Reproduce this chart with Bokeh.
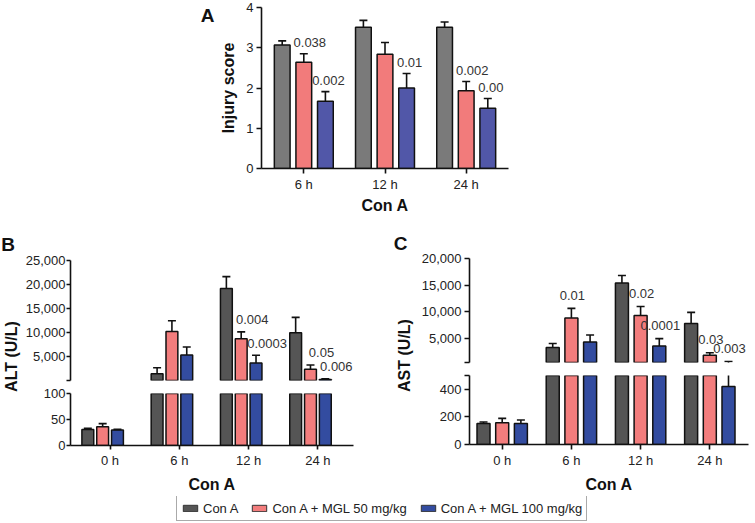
import math
import numpy as np
from bokeh.plotting import figure
from bokeh.layouts import column, row
from bokeh.models import (Range1d, FixedTicker, Legend, LegendItem,
                          NumeralTickFormatter)
from bokeh.embed import file_html
from bokeh.resources import INLINE
from bokeh.core.properties import value

FONT = "Liberation Sans"
INK = "#111111"

series = ["Con A", "Con A + MGL 50 mg/kg", "Con A + MGL 100 mg/kg"]

# ---------------- Panel A: injury score ----------------
a_times = ["6 h", "12 h", "24 h"]
a_cona = [3.07, 3.51, 3.51]
a_cona_err = [0.10, 0.17, 0.13]
a_mgl50 = [2.64, 2.84, 1.93]
a_mgl50_err = [0.21, 0.29, 0.23]
a_mgl100 = [1.67, 2.00, 1.50]
a_mgl100_err = [0.24, 0.36, 0.24]
a_p50 = ["0.038", "", "0.002"]
a_p100 = ["0.002", "0.01", "0.00"]
a_yticks = [0, 1, 2, 3, 4]

# ---------------- Panel B: ALT (U/L) ----------------
bc_times = ["0 h", "6 h", "12 h", "24 h"]
alt_cona = [31, 1500, 19200, 10000]
alt_cona_err = [2, 1250, 2450, 3200]
alt_mgl50 = [36, 10250, 8750, 2430]
alt_mgl50_err = [6, 2250, 1450, 900]
alt_mgl100 = [30, 5400, 3750, 300]
alt_mgl100_err = [1, 1650, 1600, 150]
alt_p50 = ["", "", "0.004", "0.05"]
alt_p100 = ["", "", "0.0003", "0.006"]
alt_break = 100
alt_top = 25000
alt_top_ticks = [5000, 10000, 15000, 20000, 25000]
alt_low_ticks = [0, 50, 100]

# ---------------- Panel C: AST (U/L) ----------------
ast_cona = [153, 3300, 15400, 7800]
ast_cona_err = [10, 750, 1400, 2100]
ast_mgl50 = [157, 8850, 9300, 1850]
ast_mgl50_err = [32, 1800, 1700, 490]
ast_mgl100 = [153, 4350, 3600, 420]
ast_mgl100_err = [24, 1320, 1380, 280]
ast_p50 = ["", "0.01", "0.02", "0.03"]
ast_p100 = ["", "", "0.0001", "0.003"]
ast_break = 500
ast_top = 20000
ast_top_ticks = [5000, 10000, 15000, 20000]
ast_low_ticks = [0, 200, 400]

COL_A = ["#7a7a7a", "#f27b7b", "#5157a8"]
COL_BC = ["#555555", "#f37d7d", "#334ca0"]


def base_fig(width, height, xr, yr, borders, x_axis=True, y_axis=True):
    p = figure(width=width, height=height,
               x_range=Range1d(*xr), y_range=Range1d(*yr),
               toolbar_location=None, output_backend="svg",
               x_axis_location="below" if x_axis else None,
               y_axis_location="left" if y_axis else None,
               min_border_left=borders[0], min_border_right=borders[1],
               min_border_top=borders[2], min_border_bottom=borders[3])
    p.outline_line_color = None
    p.grid.visible = False
    p.background_fill_color = "white"
    p.border_fill_color = "white"
    return p


def text_fig(width, height, xs, ys, texts, sizes, angles):
    """A blank figure whose data units equal its pixels, holding free texts."""
    p = base_fig(width, height, (0, width), (0, height), (0, 0, 0, 0),
                 x_axis=False, y_axis=False)
    p.text(x=xs, y=ys, text=texts, angle=angles, text_font_size=sizes,
           text_font=value(FONT), text_font_style="bold", text_color=INK,
           text_align="center", text_baseline="middle")
    return p


def style_axes(p, tick_out, standoff):
    for ax in p.axis:
        ax.axis_line_width = 1.6
        ax.axis_line_color = INK
        ax.major_tick_line_width = 1.6
        ax.major_tick_line_color = INK
        ax.major_tick_in = 0
        ax.major_tick_out = tick_out
        ax.minor_tick_line_color = None
        ax.major_label_text_font = FONT
        ax.major_label_text_font_size = "13px"
        ax.major_label_text_color = "#222222"
        ax.major_label_standoff = standoff
        ax.axis_label_text_font = FONT
        ax.axis_label_text_font_size = "16px"
        ax.axis_label_text_font_style = "bold"
        ax.axis_label_text_color = INK


def set_xcats(p, cats):
    p.xaxis.ticker = FixedTicker(ticks=list(range(len(cats))))
    p.xaxis.major_label_overrides = {i: c for i, c in enumerate(cats)}


def set_yticks(p, ticks, blank=None, comma=False):
    allt = list(ticks) + ([blank] if blank is not None else [])
    p.yaxis.ticker = FixedTicker(ticks=sorted(allt))
    if comma:
        p.yaxis.formatter = NumeralTickFormatter(format="0,0")
    if blank is not None:
        p.yaxis.major_label_overrides = {blank: ""}


def draw_bars(p, means, errs, offsets, width, colors, floor=None):
    """Bars with upper error bars; with `floor`, only marks reaching above it."""
    for m, e, off, c in zip(means, errs, offsets, colors):
        x = np.arange(len(m)) + off
        top = np.array(m, dtype=float)
        hi = top + np.array(e, dtype=float)
        kb = np.ones(len(m), bool) if floor is None else top > floor
        ke = np.ones(len(m), bool) if floor is None else hi > floor
        if kb.any():
            p.vbar(x=x[kb], bottom=0, top=top[kb], width=width, fill_color=c,
                   line_color=INK, line_width=1.5)
        if ke.any():
            p.segment(x0=x[ke], y0=top[ke], x1=x[ke], y1=hi[ke],
                      line_color=INK, line_width=1.6)
            p.scatter(x=x[ke], y=hi[ke], marker="dash", size=8,
                      line_color=INK, line_width=1.6)


def draw_p(p, means, errs, labels, off, dx, dy):
    xs, ys, ts = [], [], []
    for i, t in enumerate(labels):
        if t:
            xs.append(i + off)
            ys.append(means[i] + errs[i])
            ts.append(t)
    p.text(x=xs, y=ys, text=ts, x_offset=dx, y_offset=dy,
           text_align="center", text_baseline="middle",
           text_font=value(FONT), text_font_size="13px", text_color="#333333")


# ================= Panel A =================
A_OFF = [-0.266, 0.0, 0.266]
pa = base_fig(536, 222, (-0.521, 2.521), (0, 4), (40, 245, 7, 54))
draw_bars(pa, [a_cona, a_mgl50, a_mgl100], [a_cona_err, a_mgl50_err, a_mgl100_err],
          A_OFF, 0.194, COL_A)
draw_p(pa, a_mgl50, a_mgl50_err, a_p50, A_OFF[1], 6, -11)
draw_p(pa, a_mgl100, a_mgl100_err, a_p100, A_OFF[2], 3, -11)
style_axes(pa, 5, 3)
set_xcats(pa, a_times)
set_yticks(pa, a_yticks)
pa.yaxis.axis_label = "Injury score"
pa.yaxis.axis_label_standoff = 6
pa.xaxis.axis_label = "Con A"
pa.xaxis.axis_label_standoff = 2

lab_a = text_fig(217, 222, [207], [211], ["A"], ["19px"], [0])

# ================= Panel B =================
B_OFF = [-0.321, -0.107, 0.107]
B_XR = (-0.571, 3.514)
b_means = [alt_cona, alt_mgl50, alt_mgl100]
b_errs = [alt_cona_err, alt_mgl50_err, alt_mgl100_err]

pb_top = base_fig(368, 164, B_XR, (alt_break, alt_top), (45, 37, 38, 6), x_axis=False)
draw_bars(pb_top, b_means, b_errs, B_OFF, 0.171, COL_BC, floor=alt_break)
draw_p(pb_top, alt_mgl50, alt_mgl50_err, alt_p50, B_OFF[1], 11, -12)
draw_p(pb_top, alt_mgl100, alt_mgl100_err, alt_p100, B_OFF[2], 11, -12)
style_axes(pb_top, 4, 1)
set_yticks(pb_top, alt_top_ticks, blank=alt_break, comma=True)

pb_low = base_fig(368, 110, B_XR, (0, alt_break), (45, 37, 7, 51))
draw_bars(pb_low, b_means, b_errs, B_OFF, 0.171, COL_BC)
style_axes(pb_low, 4, 1)
set_xcats(pb_low, bc_times)
set_yticks(pb_low, alt_low_ticks)
pb_low.xaxis.major_label_standoff = 3
pb_low.xaxis.axis_label = "Con A"
pb_low.xaxis.axis_label_standoff = 5

lab_b = text_fig(22, 274, [7.5, 11], [252, 140], ["B", "ALT (U/L)"],
                 ["19px", "16px"], [0, math.pi / 2])

# ================= Panel C =================
C_OFF = [-0.27, 0.0, 0.27]
C_XR = (-0.4725, 3.559)
c_means = [ast_cona, ast_mgl50, ast_mgl100]
c_errs = [ast_cona_err, ast_mgl50_err, ast_mgl100_err]

pc_top = base_fig(335, 147, C_XR, (ast_break, ast_top), (51, 5, 36, 7), x_axis=False)
draw_bars(pc_top, c_means, c_errs, C_OFF, 0.188, COL_BC, floor=ast_break)
draw_p(pc_top, ast_mgl50, ast_mgl50_err, ast_p50, C_OFF[1], 1, -13)
draw_p(pc_top, ast_mgl100, ast_mgl100_err, ast_p100, C_OFF[2], 1, -13)
style_axes(pc_top, 5, 3)
set_yticks(pc_top, ast_top_ticks, blank=ast_break, comma=True)

pc_low = base_fig(335, 127, C_XR, (0, ast_break), (51, 5, 6, 52))
draw_bars(pc_low, c_means, c_errs, C_OFF, 0.188, COL_BC)
style_axes(pc_low, 5, 3)
set_xcats(pc_low, bc_times)
set_yticks(pc_low, ast_low_ticks, blank=ast_break)
pc_low.xaxis.axis_label = "Con A"
pc_low.xaxis.axis_label_standoff = 5

lab_c = text_fig(28, 274, [10, 14], [253, 141], ["C", "AST (U/L)"],
                 ["19px", "16px"], [0, math.pi / 2])

# ================= Legend =================
pl = base_fig(753, 26, (0, 1), (0, 1), (0, 0, 0, 0), x_axis=False, y_axis=False)
items = []
for name, c, vals in zip(series, COL_BC, [a_cona, a_mgl50, a_mgl100]):
    r = pl.vbar(x=np.arange(len(vals)), top=vals, width=0.1, fill_color=c,
                line_color="#333333", line_width=1, visible=False)
    items.append(LegendItem(label=name, renderers=[r]))
leg = Legend(items=items, location=(176, 1), orientation="horizontal",
             glyph_width=18, glyph_height=8, label_height=16, label_standoff=4,
             spacing=12, padding=4, margin=0,
             label_text_font=FONT, label_text_font_size="13px", label_text_color="#222222",
             border_line_color="#555555", border_line_width=1,
             background_fill_color="white", background_fill_alpha=1)
pl.add_layout(leg)

layout = column(
    row(lab_a, pa),
    row(lab_b, column(pb_top, pb_low), lab_c, column(pc_top, pc_low)),
    pl,
)

open("out.html", "w").write(file_html(layout, INLINE))
